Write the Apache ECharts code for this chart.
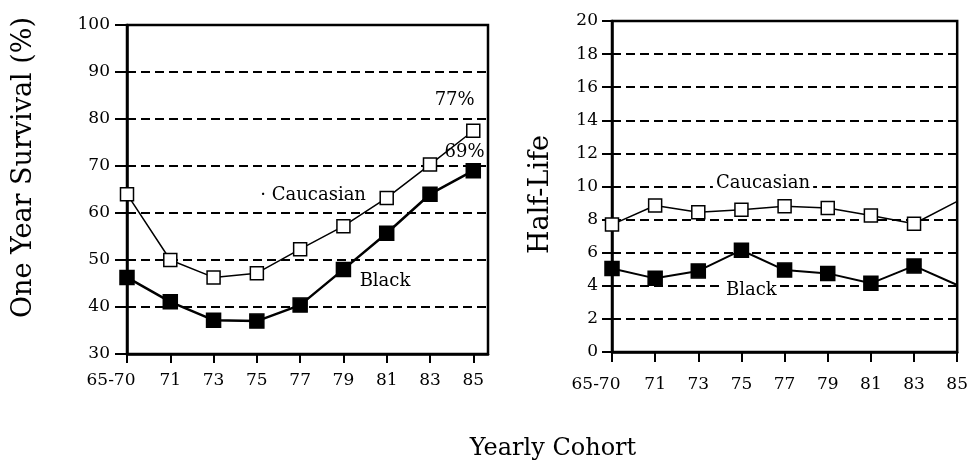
<!DOCTYPE html>
<html>
<head>
<meta charset="utf-8">
<script src="https://cdn.jsdelivr.net/npm/echarts@6/dist/echarts.min.js"></script>
<style>
  html, body {margin:0;padding:0;background:#fff;}
  #chart {width:971px;height:461px;}
</style>
</head>
<body>
<div id="chart"></div>
<script>
// cohorts on x axis
var cohorts = ['65-70', '71', '73', '75', '77', '79', '81', '83', '85'];
var cohortIdx = [0, 1, 2, 3, 4, 5, 6, 7, 8];

// one year survival (%)
var survCauc = [64, 50, 46.3, 47.2, 52.3, 57.2, 63.2, 70.3, 77.5];
var survBlack = [46.3, 41.1, 37.2, 37, 40.4, 48, 55.7, 64, 69];

// half-life
var halfCauc = [7.7, 8.85, 8.45, 8.6, 8.8, 8.7, 8.25, 7.75, 9.1];
var halfBlack = [5.05, 4.45, 4.9, 6.15, 4.95, 4.75, 4.15, 5.2, 4.05];

// text labels placed in data space [x, y, text]
var survNotes = [[4.3, 63.8, '\u00b7 Caucasian'], [5.96, 45.5, 'Black'], [7.57, 84, '77%'], [7.8, 73, '69%']];
var halfNotes = [[3.5, 10.2, 'Caucasian'], [3.23, 3.75, 'Black']];

var FONT = 'DejaVu Serif';

function pairs(ys) {
    return ys.map(function (y, i) { return [cohortIdx[i], y]; });
}

function xAx(gridIndex, max, tick, margin) {
    return {
        type: 'value', gridIndex: gridIndex, min: 0, max: max,
        axisLine: {show: true, lineStyle: {color: '#000', width: 2.5}},
        axisTick: {show: true, length: tick, lineStyle: {color: '#000', width: 2}, customValues: cohortIdx},
        axisLabel: {
            color: '#000', fontFamily: FONT, fontSize: 17, margin: margin,
            customValues: cohortIdx,
            formatter: function (v) {
                return v === 0 ? '{f|' + cohorts[0] + '}' : cohorts[v];
            },
            rich: {f: {fontFamily: FONT, fontSize: 17, color: '#000', padding: [0, 32, 0, 0]}}
        },
        splitLine: {show: false}
    };
}

function yAx(gridIndex, min, max, interval, name, gap, namePad, tick, margin) {
    return {
        type: 'value', gridIndex: gridIndex, min: min, max: max, interval: interval,
        name: name, nameLocation: 'middle', nameRotate: 90, nameGap: gap,
        nameTextStyle: {color: '#000', fontFamily: FONT, fontSize: 27, padding: namePad},
        axisLine: {show: true, lineStyle: {color: '#000', width: 2.5}},
        axisTick: {show: true, length: tick, lineStyle: {color: '#000', width: 2}},
        axisLabel: {color: '#000', fontFamily: FONT, fontSize: 17, margin: margin},
        splitLine: {show: true, lineStyle: {color: '#000', width: 2, type: [9, 5]}}
    };
}

function lineSeries(xi, data, filled, lw, hideLast) {
    var d = pairs(data);
    if (hideLast) {
        d[d.length - 1] = {value: d[d.length - 1], symbol: 'none'};
    }
    return {
        type: 'line', xAxisIndex: xi, yAxisIndex: xi, data: d,
        symbol: 'rect', symbolSize: filled ? 14 : 13,
        lineStyle: {color: '#000', width: lw},
        itemStyle: {color: filled ? '#000' : '#fff', borderColor: '#000', borderWidth: 1.5},
        z: filled ? 4 : 3, animation: false
    };
}

function noteSeries(xi, notes, bg) {
    return {
        type: 'scatter', xAxisIndex: xi, yAxisIndex: xi, symbolSize: 0,
        itemStyle: {opacity: 1},
        data: notes.map(function (n) { return {value: [n[0], n[1]], name: n[2]}; }),
        label: {
            show: true, position: 'inside', formatter: '{b}',
            color: '#000', fontFamily: FONT, fontSize: 18,
            textBorderWidth: 0,
            backgroundColor: bg ? '#fff' : 'transparent', padding: [0, 3]
        },
        z: 6, animation: false, silent: true
    };
}

var myChart = echarts.init(document.getElementById('chart'));
var option = {
    backgroundColor: '#fff',
    animation: false,
    grid: [
        {left: 127, top: 25, width: 361, height: 329, show: true, borderColor: '#000', borderWidth: 2.5, backgroundColor: 'transparent'},
        {left: 612, top: 21, width: 348, height: 331, show: true, borderColor: '#000', borderWidth: 2.5, backgroundColor: 'transparent'}
    ],
    title: {
        text: 'Yearly Cohort', left: 548, top: 432, textAlign: 'center',
        textStyle: {color: '#000', fontFamily: FONT, fontSize: 24, fontWeight: 'normal'}
    },
    xAxis: [xAx(0, 8.34, 9, 18), xAx(1, 8, 10, 24)],
    yAxis: [
        yAx(0, 30, 100, 10, 'One Year Survival (%)', 90, [0, 0, 0, 44], 12, 17),
        yAx(1, 0, 20, 2, 'Half-Life', 58, [0, 16, 0, 0], 10, 14)
    ],
    series: [
        lineSeries(0, survCauc, false, 1.5, false),
        lineSeries(0, survBlack, true, 2.5, false),
        lineSeries(1, halfCauc, false, 1.5, true),
        lineSeries(1, halfBlack, true, 2, true),
        noteSeries(0, survNotes, false),
        noteSeries(1, halfNotes, true)
    ]
};
myChart.setOption(option);
</script>
</body>
</html>
